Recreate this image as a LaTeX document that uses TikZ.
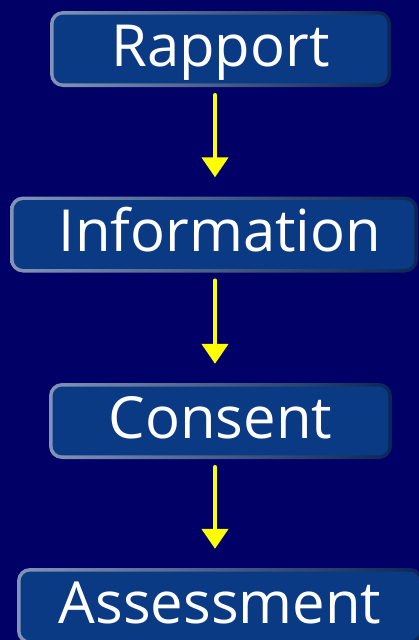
\documentclass[tikz,border=0pt]{standalone}
\usepackage{fontspec}
\setmainfont{Open Sans}
\usetikzlibrary{arrows.meta}
\definecolor{bg}{HTML}{000066}
\definecolor{boxfill}{HTML}{0B3A84}
\definecolor{rimlight}{HTML}{8494B8}
\definecolor{rimmid}{HTML}{3A5086}
\definecolor{rimdark}{HTML}{0B2656}
\definecolor{arrowyellow}{HTML}{FFFF00}
\begin{document}
\begin{tikzpicture}[x=1pt,y=-1pt,
  stage/.style={rounded corners=13pt, minimum height=76pt, inner sep=0pt,
    text=white, font=\fontsize{58}{60}\selectfont, text height=40pt, text depth=6pt,
    shading=axis, left color=rimlight, middle color=rimmid, right color=rimdark,
    path picture={\fill[boxfill, rounded corners=9.5pt]
      ([shift={(3.6pt,3.6pt)}]path picture bounding box.south west) rectangle
      ([shift={(-3.6pt,-3.6pt)}]path picture bounding box.north east);}},
  flow/.style={draw=arrowyellow, line width=4.5pt, line cap=round,
    -{Triangle[width=26pt,length=20pt]}, shorten <=8pt, shorten >=19pt}]
\useasboundingbox (0,0) rectangle (419,640);
\fill[bg] (0,0) rectangle (419,640);
\node[stage, minimum width=341pt] (r) at (220.5,49) {Rapport};
\node[stage, minimum width=408pt] (i) at (214,234.5) {\hspace*{12pt}Information};
\node[stage, minimum width=343pt] (c) at (220.5,421) {Consent};
\node[stage, minimum width=406pt] (a) at (220,606) {Assessment};
\coordinate (ax) at (215,0);
\draw[flow] (r.south -| ax) -- (i.north -| ax);
\draw[flow] (i.south -| ax) -- (c.north -| ax);
\draw[flow] (c.south -| ax) -- (a.north -| ax);
\end{tikzpicture}
\end{document}
